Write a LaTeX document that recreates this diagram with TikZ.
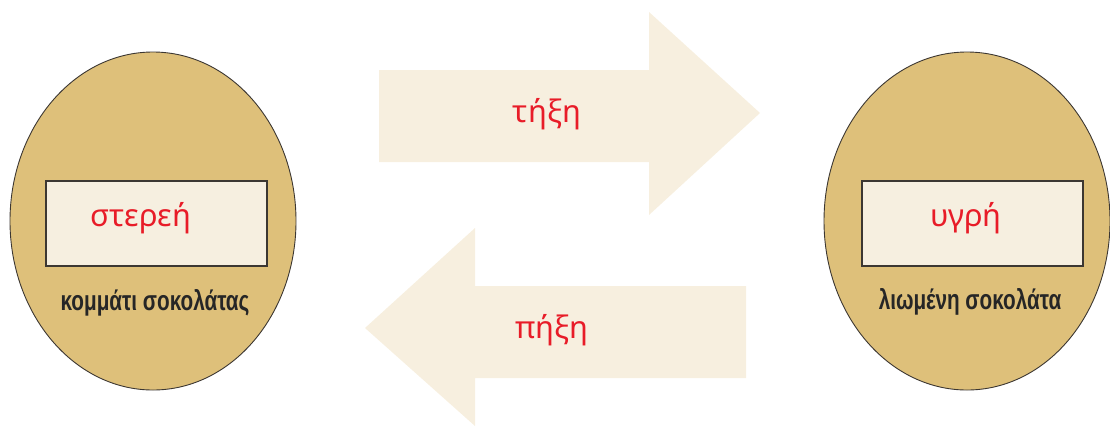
\documentclass[tikz,border=0pt]{standalone}
\usepackage{fontspec}
\setmainfont{Liberation Sans}
\newfontfamily\redfont{Noto Sans}
\newfontfamily\labfont{Liberation Sans}
\usetikzlibrary{shapes.geometric}
\definecolor{choc}{RGB}{222,192,122}
\definecolor{cream}{RGB}{246,239,224}
\definecolor{arrowcream}{RGB}{247,239,223}
\definecolor{redtxt}{RGB}{232,28,40}
\definecolor{edge}{RGB}{60,55,50}
\tikzset{
  blob/.style={ellipse, draw=edge, line width=0.9pt, fill=choc, inner sep=0pt, minimum width=286pt, minimum height=338pt},
  statebox/.style={rectangle, draw=edge, line width=1.2pt, fill=cream, inner sep=0pt, minimum width=221pt, minimum height=85pt},
  redlabel/.style={text=redtxt, font=\redfont\fontsize{31}{34}\selectfont, inner sep=0pt},
  blacklabel/.style={text=black!85, font=\labfont\bfseries\fontsize{28}{31}\selectfont, inner sep=0pt, xscale=0.74},
  bigarrow/.style={fill=arrowcream, draw=none}
}
\begin{document}
\begin{tikzpicture}[x=1pt,y=-1pt]
\useasboundingbox (0,0) rectangle (1110,426);
% arrows
\fill[bigarrow] (379,70) -- (649,70) -- (649,12) -- (760,113) -- (649,215) -- (649,162) -- (379,162) -- cycle;
\fill[bigarrow] (746,286) -- (475,286) -- (475,228) -- (365,328) -- (475,426) -- (475,378) -- (746,378) -- cycle;
\node[redlabel] (melt) at (547,114) {τήξη};
\node[redlabel] (freeze) at (552,330) {πήξη};
% left
\node[blob] (solid) at (153,221) {};
\node[statebox] (solidbox) at (156.5,223.5) {};
\node[redlabel] (solidtxt) at (141,218) {στερεή};
\node[blacklabel] (solidlab) at (155,303) {κομμάτι σοκολάτας};
% right
\node[blob] (liquid) at (967,221) {};
\node[statebox] (liquidbox) at (972.5,223.5) {};
\node[redlabel] (liquidtxt) at (966,218) {υγρή};
\node[blacklabel] (liquidlab) at (970,302) {λιωμένη σοκολάτα};
\end{tikzpicture}
\end{document}
